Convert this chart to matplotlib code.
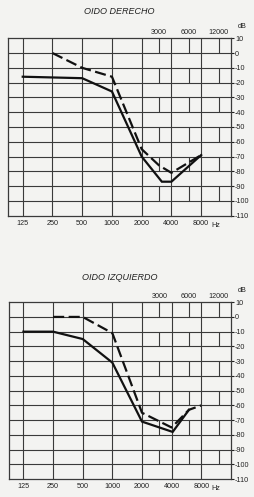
import numpy as np
import matplotlib
matplotlib.use("Agg")
import matplotlib.pyplot as plt
from matplotlib.transforms import blended_transform_factory

plt.rcParams['font.family'] = ['Liberation Sans', 'DejaVu Sans']

# audiogram data (Hz, dB)
freq_main = [125, 250, 500, 1000, 2000, 4000, 8000]
freq_top = [3000, 6000, 12000]
db_ticks = list(range(10, -111, -10))

der_solid_f = [125, 500, 1000, 2000, 3200, 4000, 8000]
der_solid_db = [-16, -17, -26, -70, -87, -87, -69]
der_dash_f = [250, 500, 1000, 2000, 3000, 4000, 8000]
der_dash_db = [0, -10, -16, -65, -76, -81, -69]

izq_solid_f = [125, 250, 500, 1000, 2000, 4100, 6000]
izq_solid_db = [-10, -10, -15, -31, -71, -78, -63]
izq_dash_f = [250, 500, 1000, 2000, 4000, 6000, 8000]
izq_dash_db = [0, 0, -11, -65, -75, -63, -60]

bg = '#f3f3f1'
grid_c = '#3a3a3a'

fig = plt.figure(figsize=(2.54, 4.97), dpi=100, facecolor=bg)


def audiogram(rect, title, title_y, sf, sdb, df, ddb):
    ax = fig.add_axes(rect, facecolor=bg)
    ax.set_xscale('log', base=2)
    ax.set_xlim(88.4, 16000)
    ax.set_ylim(-110, 10)
    ax.minorticks_off()
    # grid
    for f in freq_main:
        ax.axvline(f, color=grid_c, lw=0.8)
    for d in db_ticks[1:-1]:
        ax.axhline(d, color=grid_c, lw=0.8)
    # broken lines for 3000/6000/12000: every other row
    for f in freq_top:
        for top in range(10, -110, -20):
            ax.vlines(f, top - 10, top, color=grid_c, lw=0.8)
    for s in ax.spines.values():
        s.set_color(grid_c)
        s.set_linewidth(0.9)
    # curves
    ax.plot(sf, sdb, color='#111111', lw=1.6, solid_joinstyle='miter')
    ax.plot(df, ddb, color='#111111', lw=1.6, dashes=(5, 2))
    # ticks
    ax.set_xticks(freq_main)
    ax.set_xticklabels([str(f) for f in freq_main], fontsize=5.2)
    ax.set_yticks(db_ticks)
    ax.set_yticklabels([str(d) for d in db_ticks], fontsize=5.2)
    ax.yaxis.tick_right()
    ax.tick_params(axis='x', length=0, pad=3, colors='#222222')
    ax.tick_params(axis='y', length=2, pad=1, colors='#222222')
    tr = blended_transform_factory(ax.transData, ax.transAxes)
    for f in freq_top:
        ax.text(f, 1.01, str(f), transform=tr, ha='center', va='bottom',
                fontsize=5.2, color='#222222')
    ax.text(11300, -0.035, 'Hz', transform=tr, ha='center', va='top',
            fontsize=5.2, color='#222222')
    ax.text(1.05, 1.045, 'dB', transform=ax.transAxes, ha='center',
            va='bottom', fontsize=5.2, color='#222222')
    fig.text(rect[0] + rect[2] * 0.5, title_y, title,
             ha='center', va='center', fontsize=6.5, style='italic',
             color='#222222')
    return ax


audiogram([0.031, 0.566, 0.878, 0.357], 'OIDO DERECHO', 0.977,
          der_solid_f, der_solid_db, der_dash_f, der_dash_db)
audiogram([0.034, 0.036, 0.875, 0.356], 'OIDO IZQUIERDO', 0.441,
          izq_solid_f, izq_solid_db, izq_dash_f, izq_dash_db)

fig.savefig('out.png', dpi=100, facecolor=bg)
